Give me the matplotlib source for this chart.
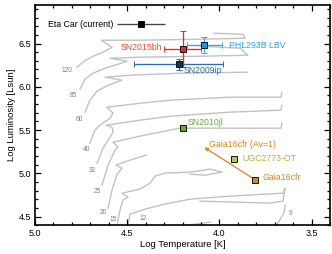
import numpy as np
import matplotlib
matplotlib.use("Agg")
import matplotlib.pyplot as plt
from matplotlib.ticker import MultipleLocator

plt.rcParams['font.family'] = ['Liberation Sans', 'DejaVu Sans']

# ---------------- evolutionary tracks (log T, log L) ----------------
track_masses = ["120", "85", "60", "40", "32", "25", "20", "15", "12", "9", "9b"]
track_logT = {
    "120": [4.772, 4.734, 4.685, 4.631, 4.582, 4.642, 4.431, 4.105, 3.861, 3.872, 4.029],
    "85":  [4.756, 4.729, 4.685, 4.620, 4.550, 4.501, 4.593, 4.431, 4.105, 3.845, 3.888, 4.105],
    "60":  [4.729, 4.702, 4.664, 4.604, 4.528, 4.620, 4.485, 4.214, 3.850],
    "40":  [4.702, 4.675, 4.648, 4.593, 4.577, 4.610, 4.431, 4.268, 3.943, 3.666, 3.661],
    "32":  [4.664, 4.631, 4.593, 4.577, 4.582, 4.615, 4.431, 4.268, 3.943, 3.666, 3.661],
    "25":  [4.637, 4.604, 4.566, 4.550, 4.577, 4.431, 4.268, 4.214, 3.943, 3.666, 3.661],
    "20":  [4.604, 4.582, 4.555, 4.528, 4.561, 4.485, 4.398],
    "15":  [4.555, 4.539, 4.523, 4.496, 4.528, 4.431, 4.376, 4.349, 4.295, 4.159, 4.051, 3.986, 4.078, 4.159],
    "12":  [4.496, 4.485, 4.403, 4.295, 4.159, 3.943, 3.655, 3.644, 3.655, 3.726, 3.915, 4.105],
    "9":   [3.693, 3.677, 3.650, 3.644],
    "9b":  [4.225, 4.132, 4.051],
}
track_logL = {
    "120": [6.226, 6.296, 6.353, 6.400, 6.457, 6.538, 6.538, 6.550, 6.561, 6.607, 6.619],
    "85":  [5.972, 6.088, 6.157, 6.215, 6.261, 6.296, 6.330, 6.342, 6.353, 6.365, 6.446, 6.469],
    "60":  [5.707, 5.845, 5.949, 6.018, 6.076, 6.111, 6.134, 6.157, 6.169],
    "40":  [5.349, 5.499, 5.557, 5.637, 5.695, 5.764, 5.810, 5.845, 5.880, 5.880, 5.935],
    "32":  [5.118, 5.291, 5.418, 5.476, 5.534, 5.557, 5.614, 5.660, 5.707, 5.730, 5.788],
    "25":  [4.864, 5.095, 5.268, 5.303, 5.360, 5.430, 5.499, 5.522, 5.522, 5.522, 5.580],
    "20":  [4.598, 4.806, 4.991, 5.060, 5.095, 5.153, 5.210],
    "15":  [4.402, 4.575, 4.690, 4.725, 4.771, 4.818, 4.887, 4.968, 5.003, 5.014, 5.049, 5.014, 4.979, 4.991],
    "12":  [4.390, 4.529, 4.587, 4.645, 4.702, 4.737, 4.771, 4.829, 4.679, 4.656, 4.668, 4.679],
    "9":   [4.390, 4.448, 4.540, 4.633],
    "9b":  [4.390, 4.413, 4.437],
}
label_masses = ["120", "85", "60", "40", "32", "25", "20", "15", "12", "9"]
label_logT = [4.826, 4.794, 4.761, 4.723, 4.687, 4.664, 4.631, 4.577, 4.414, 3.612]
label_logL = [6.190, 5.900, 5.625, 5.278, 5.037, 4.794, 4.552, 4.471, 4.483, 4.540]

# ---------------- objects ----------------
obj_names = ["Eta Car (current)", "SN2015bh", "PHL293B LBV", "SN2009ip",
             "SN2010jl", "UGC2773-OT", "Gaia16cfr"]
obj_logT = [4.425, 4.200, 4.082, 4.221, 4.200, 3.919, 3.805]
obj_logL = [6.723, 6.434, 6.480, 6.258, 5.525, 5.167, 4.925]
obj_xerr = [0.13, 0.10, 0.095, 0.24, 0.0, 0.0, 0.0]
obj_yerr = [0.0, 0.21, 0.095, 0.06, 0.0, 0.0, 0.0]
obj_face = ["#000000", "#e8281e", "#1e96e6", "#0f3557", "#6aaa3a", "#c9c33a", "#d8861e"]
obj_ecol = ["#444444", "#ee2a1e", "#3aa6ee", "#2b6cb0", "#6aaa3a", "#c9c33a", "#d8861e"]
obj_text = ["#000000", "#ee4b2b", "#2aa0ee", "#2a6aa8", "#6aaa3a", "#b8b33a", "#d8841e"]
text_logT = [4.577, 4.313, 3.950, 4.196, 4.172, 3.877, 3.765]
text_logL = [6.723, 6.454, 6.472, 6.184, 5.588, 5.167, 4.956]
text_ha = ["right", "right", "left", "left", "left", "left", "left"]

# dereddened Gaia16cfr
av_name = "Gaia16cfr (Av=1)"
av_logT = 4.082
av_logL = 5.300
av_text_logT = 4.055
av_text_logL = 5.334

fig = plt.figure(figsize=(3.32, 2.54), dpi=100)
ax = fig.add_axes([0.1054, 0.113, 0.8886, 0.869])

for m in track_masses:
    ax.plot(track_logT[m], track_logL[m], color="#c2c2c2", lw=1.0, zorder=1,
            solid_joinstyle="round")
for m, t, l in zip(label_masses, label_logT, label_logL):
    ax.text(t, l, m, fontsize=4.8, color="#808080", ha="center", va="center", zorder=2)

# arrow for Av=1 correction
ax.annotate("", xy=(av_logT, av_logL), xytext=(obj_logT[6], obj_logL[6]),
            arrowprops=dict(arrowstyle="-|>", color="#d8861e", lw=0.9,
                            mutation_scale=5, shrinkA=3, shrinkB=0), zorder=3)
ax.text(av_text_logT, av_text_logL, av_name, fontsize=6.3, color="#d8841e",
        ha="left", va="center", zorder=5)

order = [0, 1, 3, 2, 4, 5, 6]
for i in order:
    xe = obj_xerr[i] if obj_xerr[i] > 0 else None
    ye = obj_yerr[i] if obj_yerr[i] > 0 else None
    cs = 0 if i == 0 else 2.2
    ax.errorbar(obj_logT[i], obj_logL[i], xerr=xe, yerr=ye, fmt="s",
                ms=4.5, mfc=obj_face[i], mec="#111111", mew=0.7,
                ecolor=obj_ecol[i], elinewidth=0.95, capsize=cs, capthick=0.95,
                zorder=4)
    ax.text(text_logT[i], text_logL[i], obj_names[i], fontsize=6.3,
            color=obj_text[i], ha=text_ha[i], va="center", zorder=5)

ax.set_xlim(5.0, 3.4)
ax.set_ylim(4.4, 6.95)
ax.xaxis.set_major_locator(MultipleLocator(0.5))
ax.xaxis.set_minor_locator(MultipleLocator(0.1))
ax.yaxis.set_major_locator(MultipleLocator(0.5))
ax.yaxis.set_minor_locator(MultipleLocator(0.1))
ax.xaxis.set_major_formatter(plt.FormatStrFormatter("%.1f"))
ax.yaxis.set_major_formatter(plt.FormatStrFormatter("%.1f"))
ax.tick_params(which="both", direction="in", top=True, right=True,
               width=0.9, labelsize=6.5, pad=2.5)
ax.tick_params(which="major", length=4.5)
ax.tick_params(which="minor", length=2.3)
for s in ax.spines.values():
    s.set_linewidth(1.2)
ax.set_xlabel("Log Temperature [K]", fontsize=6.8, labelpad=1.5)
ax.set_ylabel("Log Luminosity [Lsun]", fontsize=6.8, labelpad=2)

fig.savefig("out.png", dpi=100)
